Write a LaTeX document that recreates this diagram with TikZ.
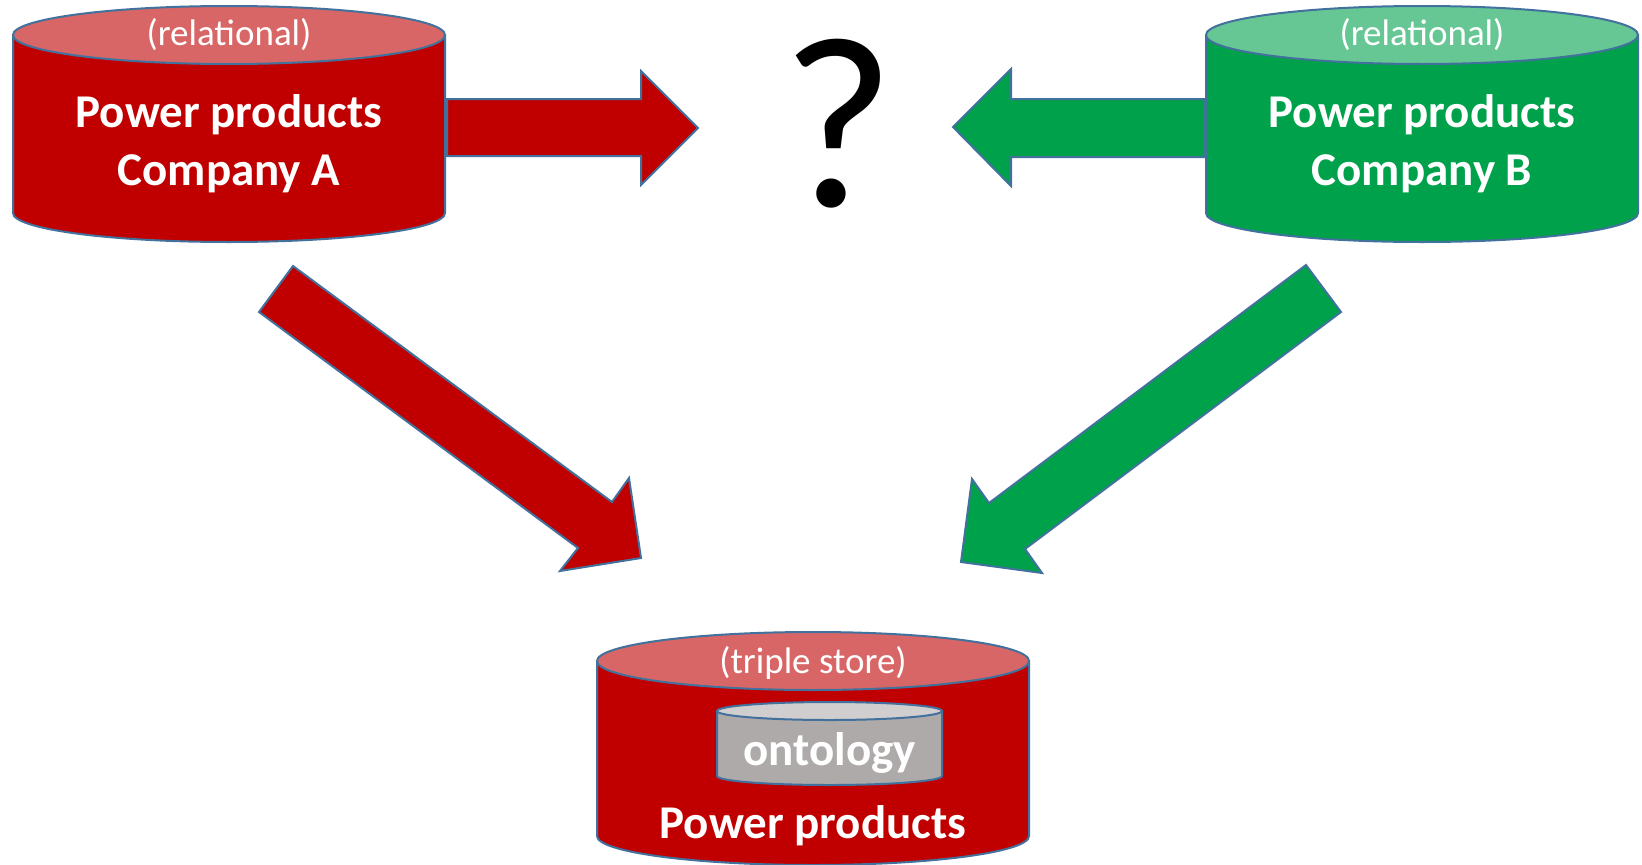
\documentclass[tikz,border=0pt]{standalone}
\usepackage{fontspec}
\setmainfont{Carlito}
\begin{document}
\definecolor{redside}{RGB}{192,0,0}
\definecolor{redtop}{RGB}{217,102,102}
\definecolor{greenside}{RGB}{0,161,75}
\definecolor{greentop}{RGB}{102,199,149}
\definecolor{greyside}{RGB}{174,170,170}
\definecolor{greytop}{RGB}{208,206,206}
\definecolor{outline}{RGB}{65,113,156}
% cylinder: centre x, x radius, top y, bottom y, y radius, side colour, lid colour
\newcommand{\drum}[7]{%
  \draw[outl, fill=#6] (#1-#2,#3) -- (#1-#2,#4)
     arc[start angle=180, end angle=360, x radius=#2pt, y radius=#5pt]
     -- (#1+#2,#3) -- cycle;
  \draw[outl, fill=#7] (#1,#3) ellipse[x radius=#2pt, y radius=#5pt];
}
\begin{tikzpicture}[x=1pt, y=-1pt,
  outl/.style={draw=outline, line width=2pt, line join=miter},
  bigtext/.style={anchor=base, text=white, font=\fontsize{47}{56}\selectfont\bfseries, inner sep=0pt},
  lidtext/.style={anchor=base, text=white, font=\fontsize{37}{44}\selectfont, inner sep=0pt}]
\useasboundingbox (0,0) rectangle (1642,865);

% source databases
\drum{229}{216}{35}{213}{29}{redside}{redtop}
\drum{1422}{216}{35}{213}{29}{greenside}{greentop}
\node[lidtext] (lidA) at (229,45) {(relational)};
\node[bigtext] (nameA1) at (229,127) {Power products};
\node[bigtext] (nameA2) at (229,185) {Company A};
\node[lidtext] (lidB) at (1422,45) {(relational)};
\node[bigtext] (nameB1) at (1422,127) {Power products};
\node[bigtext] (nameB2) at (1422,185) {Company B};

% target store with the ontology inside
\drum{813}{216}{661}{836}{29}{redside}{redtop}
\drum{829.5}{112.5}{711}{776}{9}{greyside}{greytop}
\node[lidtext] (lidT) at (813,673) {(triple store)};
\node[bigtext] (onto) at (829.5,765) {ontology};
\node[bigtext] (nameT) at (813,838) {Power products};

% the open question
\node[anchor=base, inner sep=0pt, font=\fontsize{245}{245}\selectfont] (q) at (838,206) {?};

% block arrows
\draw[outl, fill=redside] (447,99) -- (641,99) -- (641,71) -- (698,128) -- (641,185) -- (641,156) -- (447,156) -- cycle;
\draw[outl, fill=greenside] (1205,99) -- (1011,99) -- (1011,69) -- (953,127) -- (1011,186) -- (1011,157) -- (1205,157) -- cycle;
\draw[outl, fill=redside] (293,266) -- (612,502) -- (629,478) -- (641,558) -- (560,571) -- (578,548) -- (259,312) -- cycle;
\draw[outl, fill=greenside] (1306,265) -- (989,503) -- (972,479) -- (961,562) -- (1042,573) -- (1025,549) -- (1341,312) -- cycle;
\end{tikzpicture}
\end{document}
